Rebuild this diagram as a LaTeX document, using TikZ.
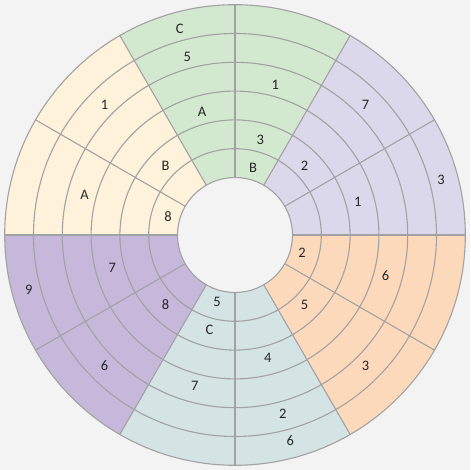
\documentclass[tikz,border=0pt]{standalone}
\usepackage{fontspec}
\setmainfont{Carlito}
\definecolor{bgc}{HTML}{F3F3F3}
\definecolor{cgreen}{HTML}{D2E9CF}
\definecolor{clav}{HTML}{DCD8EB}
\definecolor{corange}{HTML}{FDD9BB}
\definecolor{cblue}{HTML}{D4E3E4}
\definecolor{cpurple}{HTML}{C5B8DA}
\definecolor{cyellow}{HTML}{FEF2DB}
\definecolor{linec}{HTML}{A2A2A2}
\definecolor{txtc}{HTML}{262626}
\tikzset{
  gridline/.style={draw=linec, line width=1.1pt},
  lbl/.style={text=txtc, font=\fontsize{14.5}{17}\selectfont, inner sep=0pt}
}
\begin{document}
\begin{tikzpicture}[x=1pt,y=1pt]
\useasboundingbox (0,0) rectangle (470,470);
\fill[bgc] (0,0) rectangle (470,470);
\begin{scope}[shift={(235,235)}]
  % coloured sectors
  \foreach \a/\c in {60/cgreen,0/clav,-60/corange,-120/cblue,180/cpurple,120/cyellow} {
    \pgfmathsetmacro\b{\a+60}
    \fill[\c] (\a:57.5pt) arc[start angle=\a, end angle=\b, radius=57.5pt]
      -- (\b:230.3pt) arc[start angle=\b, end angle=\a, radius=230.3pt] -- cycle;
  }
  % rings
  \foreach \k in {0,...,6} {
    \pgfmathsetmacro\r{57.5+28.8*\k}
    \draw[gridline] (0,0) circle[radius=\r pt];
  }
  % spokes
  \foreach \a in {0,30,...,330} {
    \draw[gridline] (\a:57.5pt) -- (\a:230.3pt);
  }
  % labels
  \foreach \a/\k/\t/\n in {
    105/6/C/g1, 105/5/5/g2, 75/4/1/g3, 105/3/A/g4, 75/2/3/g5, 75/1/B/g6,
    135/5/1/y1, 165/4/A/y2, 135/2/B/y3, 165/1/8/y4,
    45/5/7/l1, 15/6/3/l2, 15/3/1/l3, 45/2/2/l4,
    -15/1/2/o1, -15/4/6/o2, -45/2/5/o3, -45/5/3/o4,
    -105/1/5/b1, -105/2/C/b2, -75/3/4/b3, -105/4/7/b4, -75/5/2/b5, -75/6/6/b6,
    -165/6/9/p1, -165/3/7/p2, -135/2/8/p3, -135/5/6/p4} {
    \pgfmathsetmacro\r{57.5+28.8*(\k-0.5)-2.5}
    \node[lbl] (\n) at (\a:\r pt) {\t};
  }
\end{scope}
\end{tikzpicture}
\end{document}
